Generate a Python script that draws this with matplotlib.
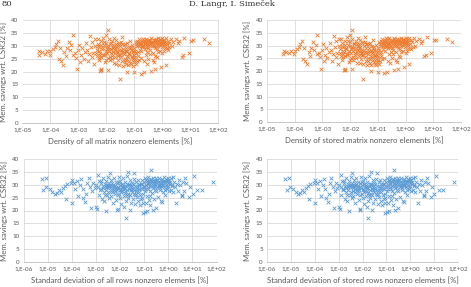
import numpy as np
import matplotlib.pyplot as plt
from matplotlib.ticker import FixedLocator, FixedFormatter

# log10 of density [%] and memory savings [%] for the density panels (top row)
dens_exp = [
    -4.42, -4.40, -4.30, -4.20, -4.12, -4.02, -4.00, -3.90, -3.85, -3.80,
    -3.72, -3.70, -3.65, -3.62, -3.55, -3.50, -3.45, -3.40, -3.35, -3.30,
    -3.25, -3.20, -3.18, -3.12, -3.08, -3.04, -3.02, -2.98, -2.95, -2.90,
    -2.86, -2.82, -2.78, -2.74, -2.70, -2.66, -2.62, -2.60, -2.56, -2.52,
    -2.50, -2.48, -2.45, -2.42, -2.40,
    -2.22, -2.20, -2.18, -1.95, -1.52, -1.25, -1.00, -0.78, -0.66, -0.40,
    -0.28, -0.05, 0.12, -1.95, -2.00,
    0.30, 0.38, 0.48, 0.55, 0.60, 0.68, 0.72, 0.77, 0.93, 1.02,
    1.08, 1.48, 1.66, 0.25, 0.20, 0.35,
    -2.35, -2.33, -2.30, -2.28, -2.25, -2.22, -2.20, -2.18, -2.15, -2.12,
    -2.10, -2.08, -2.05, -2.03, -2.00, -1.98, -1.96, -1.94, -1.92, -1.90,
    -1.88, -1.86, -1.84, -1.82, -1.80, -1.78, -1.76, -1.74, -1.72, -1.70,
    -1.68, -1.66, -1.64, -1.62, -1.60, -1.58, -1.56, -1.54, -1.52, -1.50,
    -1.48, -1.46, -1.44, -1.42, -1.40, -1.38, -1.36, -1.34, -1.32, -1.30,
    -1.28, -1.26, -1.24, -1.22, -1.20, -1.18, -1.16, -1.14, -1.12, -1.10,
    -1.08, -1.06, -1.04, -1.02, -1.00, -0.98, -0.96, -0.94, -0.92, -0.90,
    -0.88, -0.86, -0.84, -0.82, -0.80, -0.78, -0.76, -0.74, -0.72,
    -2.26, -2.14, -2.06, -1.99, -1.91, -1.83, -1.77, -1.69, -1.61, -1.57,
    -1.49, -1.43, -1.37, -1.31, -1.25, -1.19, -1.13, -1.07, -1.03, -0.97,
    -2.38, -2.32, -2.24, -1.73, -1.45, -1.65, -1.35, -1.15, -1.05, -0.95,
    -0.70, -0.68, -0.66, -0.64, -0.62, -0.60, -0.58, -0.56, -0.54, -0.52,
    -0.50, -0.48, -0.46, -0.44, -0.42, -0.40, -0.38, -0.36, -0.34, -0.32,
    -0.30, -0.28, -0.26, -0.24, -0.22, -0.20, -0.18, -0.16, -0.14, -0.12,
    -0.10, -0.08, -0.06, -0.04, -0.02, 0.00, 0.02, 0.04, 0.06, 0.08,
    0.10, 0.12, 0.15, 0.18, 0.22,
    -0.60, -0.50, -0.45, -0.35, -0.25, -0.15, -0.55, -0.65, -0.30, 0.00,
    0.05, 0.15, -0.20,
    -0.90, -0.85, -0.80, -0.75, -0.70, -0.62, -0.57, -0.47, -0.41, -0.33,
    -0.27, -0.19, -0.11, -0.03, 0.03, 0.09,
    -2.31, -2.27, -2.19, -2.13, -2.09, -2.01, -1.97, -1.89, -1.85, -1.79,
    -1.71, -1.67, -1.59, -1.55, -1.47, -1.41, -1.33, -1.29, -1.21, -1.17,
    -1.09, -1.01, -0.93, -0.89, -0.83, -0.79, -0.73, -0.69, -0.63, -0.59,
    -0.53, -0.49, -0.43, -0.39, -0.31, -0.23, -0.17, -0.09, -0.01, 0.07,
]
dens_sav = [
    26.6, 28.0, 27.5, 26.9, 27.8, 26.5, 27.8, 28.6, 29.5, 30.5,
    31.8, 24.7, 29.2, 24.1, 22.7, 27.6, 26.0, 29.0, 31.5, 28.2,
    30.3, 34.0, 26.5, 27.2, 25.3, 20.9, 28.2, 30.4, 23.8, 26.3,
    29.0, 25.0, 27.6, 31.0, 28.3, 24.0, 26.8, 33.8, 29.5, 25.6,
    31.6, 27.1, 22.9, 30.0, 32.5,
    20.3, 20.9, 20.5, 20.6, 17.0, 20.0, 19.8, 19.2, 19.8, 20.3,
    20.9, 21.6, 22.7, 36.0, 34.3,
    32.8, 31.6, 32.6, 31.0, 31.8, 25.8, 26.3, 33.2, 27.0, 32.0,
    32.2, 32.5, 31.2, 29.5, 28.5, 30.0,
    28.5, 26.0, 30.8, 24.5, 29.6, 27.3, 31.9, 25.7, 28.8, 33.2,
    26.6, 30.1, 23.7, 28.0, 31.2, 27.0, 25.2, 29.4, 32.6, 27.8,
    24.3, 30.5, 28.6, 26.1, 31.7, 29.0, 27.4, 23.2, 30.0, 28.2,
    25.8, 32.1, 29.5, 27.0, 24.6, 30.8, 28.4, 22.6, 26.4, 29.9,
    31.5, 27.6, 24.0, 28.9, 22.2, 30.4, 26.8, 25.0, 29.2, 23.1,
    31.0, 27.9, 22.5, 25.6, 29.7, 24.2, 32.0, 28.3, 22.9, 26.2,
    30.3, 24.8, 27.4, 23.5, 29.1, 25.5, 31.4, 27.0, 23.9, 29.8,
    26.0, 31.2, 24.6, 28.5, 30.6, 25.2, 27.8, 32.3, 29.4,
    27.9, 29.2, 26.9, 29.9, 28.9, 27.2, 30.4, 29.1, 28.0, 26.9,
    28.2, 30.5, 27.5, 28.0, 26.0, 27.3, 29.6, 28.0, 26.3, 28.1,
    27.0, 32.5, 26.5, 33.0, 33.3, 23.0, 23.8, 23.4, 22.3, 22.8,
    31.5, 30.0, 32.4, 28.9, 31.0, 29.6, 32.8, 30.5, 27.6, 31.7,
    29.2, 32.2, 30.8, 28.4, 31.3, 32.9, 29.9, 31.0, 27.3, 32.4,
    30.4, 31.8, 29.0, 32.7, 30.9, 28.6, 31.5, 32.9, 30.1, 31.2,
    28.0, 32.5, 30.6, 31.8, 29.5, 32.9, 31.0, 30.2, 32.2, 29.0,
    31.5, 33.0, 30.6, 32.0, 31.2,
    26.5, 25.0, 26.8, 24.3, 26.0, 27.5, 23.0, 24.0, 23.5, 27.0,
    28.0, 29.0, 25.5,
    31.8, 32.6, 31.0, 30.5, 32.8, 30.6, 31.4, 31.9, 30.2, 31.6,
    32.2, 30.4, 32.0, 30.8, 31.9, 30.5,
    29.8, 25.3, 30.2, 26.3, 31.6, 24.4, 28.6, 25.6, 31.0, 25.0,
    27.0, 30.6, 26.2, 31.2, 25.5, 27.0, 30.6, 24.6, 26.9, 29.0,
    25.8, 24.4, 30.6, 27.5, 30.0, 31.6, 29.9, 30.3, 32.0, 31.1,
    30.0, 31.2, 32.4, 31.6, 30.0, 31.9, 30.0, 31.3, 31.9, 32.4,
]

# log10 of std. deviation of rows nonzeros [%] and savings [%] (bottom row)
std_exp = [
    -5.25, -5.18, -5.07, -5.05, -4.90, -4.80, -4.70, -4.62, -4.52, -4.45,
    -4.38, -4.30, -4.22, -4.18, -4.05, -4.00, -3.97, -3.90, -3.85, -3.78,
    -3.74, -3.65, -3.60, -3.55, -3.52, -3.46, -3.42, -3.35, -3.30, -3.25,
    -3.20, -3.15, -3.10, -3.05, -3.00, -2.98, -2.96, -2.92, -2.88, -2.85,
    -2.80, -2.78, -2.75, -2.72, -2.70, -2.68, -2.65, -2.62, -2.60, -2.58,
    -2.56, -2.54, -2.52, -2.50, -2.48, -2.46, -2.44, -2.42, -2.40, -2.38,
    -2.36, -2.34, -2.32, -2.30, -2.28, -2.26, -2.24, -2.22, -2.20, -2.18,
    -2.16, -2.14, -2.12, -2.11, -2.10, -2.08, -2.06, -2.04, -2.02, -2.00,
    -1.98, -1.96, -1.94, -1.92, -1.90, -1.88, -1.86, -1.84, -1.83, -1.82,
    -1.80, -1.78, -1.76, -1.75, -1.74, -1.72, -1.70, -1.68, -1.66, -1.64,
    -1.62, -1.60, -1.59, -1.58, -1.56, -1.54, -1.52, -1.50, -1.48, -1.46,
    -1.44, -1.42, -1.40, -1.38, -1.36, -1.34, -1.32, -1.30, -1.28, -1.26,
    -1.24, -1.22, -1.20, -1.18, -1.16, -1.14, -1.12, -1.10, -1.08, -1.06,
    -1.04, -1.02,
    -1.00, -0.98, -0.97, -0.96, -0.94, -0.92, -0.90, -0.88, -0.87, -0.86,
    -0.84, -0.82, -0.80, -0.78, -0.76, -0.74, -0.72, -0.70, -0.70, -0.68,
    -0.66, -0.64, -0.62, -0.62, -0.60, -0.58, -0.56, -0.54, -0.52, -0.51,
    -0.50, -0.48, -0.46, -0.44, -0.42, -0.40, -0.38, -0.36, -0.34, -0.32,
    -0.30, -0.28, -0.27, -0.26, -0.24, -0.22, -0.20, -0.18, -0.16, -0.14,
    -0.12, -0.10, -0.08, -0.06, -0.04, -0.02, 0.00, 0.02, 0.05, 0.08,
    0.10, 0.12, 0.15, 0.18, 0.21, 0.24, 0.28, 0.31, 0.35, 0.40,
    0.45, 0.50, 0.56, 0.59, 0.60, 0.65, 0.69, 0.75, 0.86, 0.90,
    1.01, 1.08, 1.20, 1.38, 1.85,
    -2.60, -2.50, -2.40, -2.30, -2.20, -2.10, -2.00, -1.90, -1.80, -1.70,
    -1.60, -1.50, -1.40, -1.30, -1.20, -1.10, -0.95, -0.85, -0.75, -0.65,
    -0.55, -0.45, -0.35, -0.25, -0.15, -0.05, -1.65, -1.35, -1.05, -0.75,
    -2.91, -2.83, -2.77, -2.69, -2.63, -2.55, -2.47, -2.39, -2.33, -2.25,
    -2.17, -2.09, -2.03, -1.95, -1.87, -1.79, -1.71, -1.63, -1.55, -1.47,
    -1.39, -1.31, -1.23, -1.15, -1.07, -0.99, -0.91, -0.83, -0.77, -0.69,
    -0.61, -0.53, -0.47, -0.39, -0.31, -0.23, -0.13, -0.03, 0.07, 0.17,
]
std_sav = [
    32.2, 27.9, 32.7, 29.2, 28.3, 27.0, 26.5, 26.9, 28.0, 27.2,
    28.6, 29.4, 24.3, 30.2, 30.6, 31.8, 22.8, 30.8, 28.5, 31.4,
    25.5, 30.0, 32.1, 28.2, 24.7, 23.4, 26.6, 30.8, 32.5, 29.2,
    20.8, 27.5, 30.8, 28.6, 21.5, 29.8, 20.6, 33.6, 26.2, 31.5,
    28.4, 30.5, 24.6, 29.6, 32.7, 27.3, 23.5, 30.2, 28.0, 19.9,
    31.4, 26.0, 29.0, 33.0, 27.2, 24.8, 30.6, 34.4, 28.6, 25.8,
    31.9, 29.4, 27.0, 23.0, 30.0, 32.5, 28.1, 26.4, 29.7, 31.2,
    24.0, 27.8, 30.6, 20.2, 20.6, 28.8, 33.2, 26.6, 29.9, 25.0,
    31.6, 28.3, 22.4, 30.3, 27.4, 32.8, 29.0, 25.6, 21.5, 28.6,
    31.0, 26.9, 23.6, 17.2, 29.6, 33.3, 27.8, 24.8, 34.8, 30.1,
    28.2, 25.9, 20.2, 31.7, 29.2, 23.0, 27.0, 30.7, 28.5, 24.4,
    32.2, 26.3, 34.6, 29.5, 22.6, 27.6, 30.9, 25.2, 28.8, 31.8,
    23.8, 27.1, 29.9, 22.2, 26.0, 30.4, 24.6, 28.4, 32.0, 18.9,
    23.0, 29.2,
    31.0, 27.4, 19.5, 32.6, 29.8, 22.8, 31.5, 25.8, 19.8, 30.4,
    32.9, 28.2, 24.2, 31.9, 29.5, 22.3, 32.3, 35.7, 30.8, 26.8,
    31.6, 28.9, 20.2, 32.7, 30.1, 24.5, 31.3, 29.0, 32.5, 20.8,
    27.5, 30.6, 32.0, 25.4, 31.0, 29.4, 32.8, 27.9, 30.8, 31.9,
    23.8, 29.7, 23.4, 32.4, 30.5, 27.0, 31.5, 33.0, 29.2, 31.0,
    26.2, 32.1, 30.0, 28.2, 31.6, 32.8, 29.5, 27.4, 31.8, 30.4,
    28.0, 32.6, 30.0, 27.2, 33.1, 31.0, 29.0, 22.8, 30.2, 27.5,
    32.0, 29.8, 26.0, 25.6, 31.2, 27.6, 32.5, 30.5, 25.4, 29.0,
    26.6, 33.4, 27.8, 28.0, 31.2,
    29.2, 30.0, 29.5, 28.2, 27.5, 29.2, 28.0, 29.0, 27.5, 30.2,
    28.8, 29.4, 28.0, 29.6, 28.2, 30.1, 28.3, 29.1, 27.6, 29.8,
    28.0, 29.3, 28.6, 30.0, 27.8, 29.0, 26.5, 26.6, 26.4, 25.6,
    29.0, 27.8, 31.6, 28.8, 26.2, 30.0, 29.6, 27.4, 30.6, 29.0,
    28.6, 26.0, 31.0, 27.0, 30.0, 28.8, 26.0, 29.8, 27.8, 30.4,
    26.0, 28.0, 30.2, 28.6, 25.0, 29.6, 32.0, 30.6, 31.2, 29.4,
    31.5, 30.2, 31.8, 30.0, 31.2, 29.8, 31.6, 30.8, 31.0, 29.6,
]

top_ticks = ['1,E-05', '1,E-04', '1,E-03', '1,E-02', '1,E-01', '1,E+00', '1,E+01', '1,E+02']
bottom_ticks = ['1,E-06'] + top_ticks
y_ticks = [0, 5, 10, 15, 20, 25, 30, 35, 40]

ORANGE = '#ED7D31'
BLUE = '#5B9BD5'
TXT = '#595959'
FONT = 'Lato'

W, H = 471, 287
fig = plt.figure(figsize=(W / 100, H / 100), dpi=100)


def px_axes(x0, x1, ytop, ybot):
    return fig.add_axes([x0 / W, 1 - ybot / H, (x1 - x0) / W, (ybot - ytop) / H])


def draw_panel(ax, xexp, ysav, color, ticks, xlabel):
    lo = int(ticks[0][-3:].replace('+', ''))
    hi = int(ticks[-1][-3:].replace('+', ''))
    ax.scatter(np.power(10.0, xexp), ysav, marker='x', s=7, linewidths=0.6,
               color=color, zorder=3)
    ax.set_xscale('log')
    ax.set_xlim(10.0 ** lo, 10.0 ** hi)
    ax.set_ylim(0, 40)
    ax.xaxis.set_major_locator(FixedLocator([10.0 ** e for e in range(lo, hi + 1)]))
    ax.xaxis.set_major_formatter(FixedFormatter(ticks))
    ax.xaxis.set_minor_locator(FixedLocator([]))
    ax.set_yticks(y_ticks)
    ax.grid(True, color='#d9d9d9', linewidth=0.6, zorder=0)
    for s in ['top', 'right', 'left']:
        ax.spines[s].set_visible(False)
    ax.spines['bottom'].set_color('#bfbfbf')
    ax.spines['bottom'].set_linewidth(0.6)
    ax.tick_params(length=0, labelsize=4.5, labelcolor=TXT, pad=3)
    for lab in ax.get_xticklabels() + ax.get_yticklabels():
        lab.set_fontfamily(FONT)
    ax.set_xlabel(xlabel, fontsize=5.6, color=TXT, family=FONT, labelpad=4)
    ax.set_ylabel('Mem. savings wrt. CSR32 [%]', fontsize=5.6, color=TXT,
                  family=FONT, labelpad=3)


ax1 = px_axes(22.5, 218.5, 20, 123)
draw_panel(ax1, dens_exp, dens_sav, ORANGE, top_ticks,
           'Density of all matrix nonzero elements [%]')
ax2 = px_axes(267, 461, 20, 122)
draw_panel(ax2, dens_exp, dens_sav, ORANGE, top_ticks,
           'Density of stored matrix nonzero elements [%]')
ax3 = px_axes(23.5, 216.5, 159, 262)
draw_panel(ax3, std_exp, std_sav, BLUE, bottom_ticks,
           'Standard deviation of all rows nonzero elements [%]')
ax4 = px_axes(267, 458, 159, 262)
draw_panel(ax4, std_exp, std_sav, BLUE, bottom_ticks,
           'Standard deviation of stored rows nonzero elements [%]')

# running page header at the top of the scanned page
fig.text(1 / W, 1 - 4 / H, '80', ha='left', va='center', fontsize=6,
         family='DejaVu Serif', color='#333333')
fig.text(232 / W, 1 - 4 / H, 'D. Langr, I. Šimeček', ha='center', va='center',
         fontsize=6, family='DejaVu Serif', color='#333333')

fig.savefig('out.png', dpi=100, facecolor='white')
